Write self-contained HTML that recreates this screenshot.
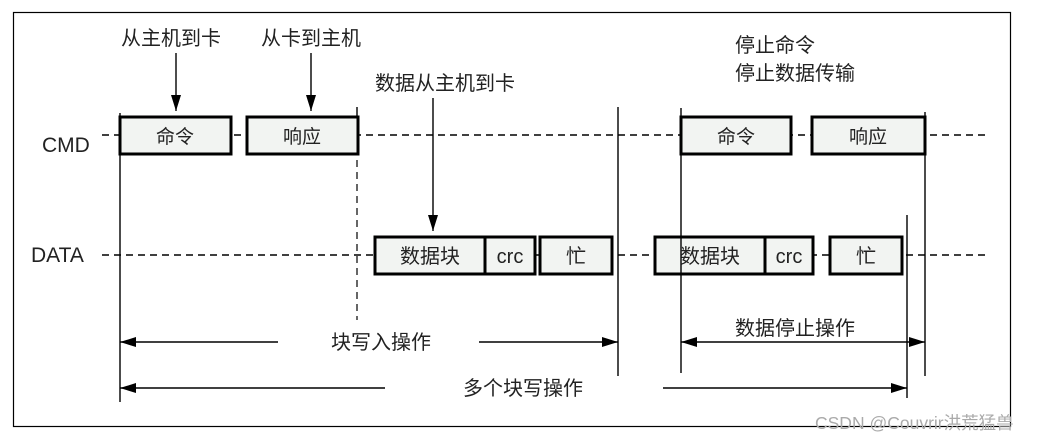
<!DOCTYPE html>
<html><head><meta charset="utf-8"><style>
html,body{margin:0;padding:0;background:#fff;}
svg{display:block;}
text{font-family:"Liberation Sans","Noto Sans CJK SC",sans-serif;fill:#222;}
</style></head><body>
<svg width="1041" height="442" viewBox="0 0 1041 442" xmlns="http://www.w3.org/2000/svg">
<defs>
<marker id="ah" markerWidth="16" markerHeight="10" refX="16" refY="5" orient="auto" markerUnits="userSpaceOnUse">
<path d="M0,0 L16,5 L0,10 z" fill="#000"/></marker>
<marker id="ahs" markerWidth="16" markerHeight="10" refX="0" refY="5" orient="auto" markerUnits="userSpaceOnUse">
<path d="M16,0 L0,5 L16,10 z" fill="#000"/></marker>
</defs>
<rect x="13.5" y="12.5" width="997" height="414" fill="none" stroke="#000" stroke-width="1.2"/>
<g stroke="#000" stroke-width="1.5" stroke-dasharray="7,5" fill="none">
<line x1="102" y1="135" x2="988" y2="135"/>
<line x1="102" y1="255" x2="988" y2="255"/>
<line x1="357" y1="160" x2="357" y2="320" stroke-width="1.2"/>
</g>
<g stroke="#000" stroke-width="1.4">
<line x1="120" y1="113" x2="120" y2="402"/>
<line x1="618" y1="107" x2="618" y2="376"/>
<line x1="925" y1="112" x2="925" y2="376"/>
<line x1="907" y1="215" x2="907" y2="398"/>
<line x1="357" y1="107" x2="357" y2="120"/>
</g>
<g stroke="#000" stroke-width="3" fill="#f2f4f2">
<rect x="120" y="117" width="111" height="37"/>
<rect x="247" y="117" width="111" height="37"/>
<rect x="681" y="117" width="110" height="37"/>
<rect x="812" y="117" width="113" height="37"/>
<rect x="375" y="237" width="110" height="37"/>
<rect x="485" y="237" width="50" height="37"/>
<rect x="540" y="237" width="72" height="37"/>
<rect x="655" y="237" width="110" height="37"/>
<rect x="765" y="237" width="48" height="37"/>
<rect x="830" y="237" width="72" height="37"/>
</g>
<line x1="681" y1="108" x2="681" y2="373" stroke="#000" stroke-width="1.4"/>
<g stroke="#000" stroke-width="1.4">
<line x1="176" y1="53" x2="176" y2="111" marker-end="url(#ah)"/>
<line x1="311" y1="53" x2="311" y2="111" marker-end="url(#ah)"/>
<line x1="433" y1="98" x2="433" y2="231" marker-end="url(#ah)"/>
<line x1="120" y1="342" x2="278" y2="342" marker-start="url(#ahs)"/>
<line x1="479" y1="342" x2="618" y2="342" marker-end="url(#ah)"/>
<line x1="120" y1="388" x2="385" y2="388" marker-start="url(#ahs)"/>
<line x1="663" y1="388" x2="907" y2="388" marker-end="url(#ah)"/>
<line x1="681" y1="342" x2="925" y2="342" marker-start="url(#ahs)" marker-end="url(#ah)"/>
</g>
<g font-size="20">
<text x="42" y="152" font-size="21">CMD</text>
<text x="31" y="262" font-size="21">DATA</text>
<text x="121" y="45">从主机到卡</text>
<text x="261" y="45">从卡到主机</text>
<text x="375" y="90">数据从主机到卡</text>
<text x="735" y="52">停止命令</text>
<text x="735" y="80">停止数据传输</text>
<text x="175" y="143" text-anchor="middle" font-size="19">命令</text>
<text x="302" y="143" text-anchor="middle" font-size="19">响应</text>
<text x="736" y="143" text-anchor="middle" font-size="19">命令</text>
<text x="868" y="143" text-anchor="middle" font-size="19">响应</text>
<text x="430" y="263" text-anchor="middle">数据块</text>
<text x="510" y="263" text-anchor="middle">crc</text>
<text x="576" y="263" text-anchor="middle">忙</text>
<text x="710" y="263" text-anchor="middle">数据块</text>
<text x="789" y="263" text-anchor="middle">crc</text>
<text x="866" y="263" text-anchor="middle">忙</text>
<text x="331" y="349">块写入操作</text>
<text x="463" y="395">多个块写操作</text>
<text x="735" y="335">数据停止操作</text>
<text x="815" y="429" font-size="17.5" style="fill:#aaa">CSDN @Couvrir洪荒猛兽</text>
</g>
</svg>
</body></html>
